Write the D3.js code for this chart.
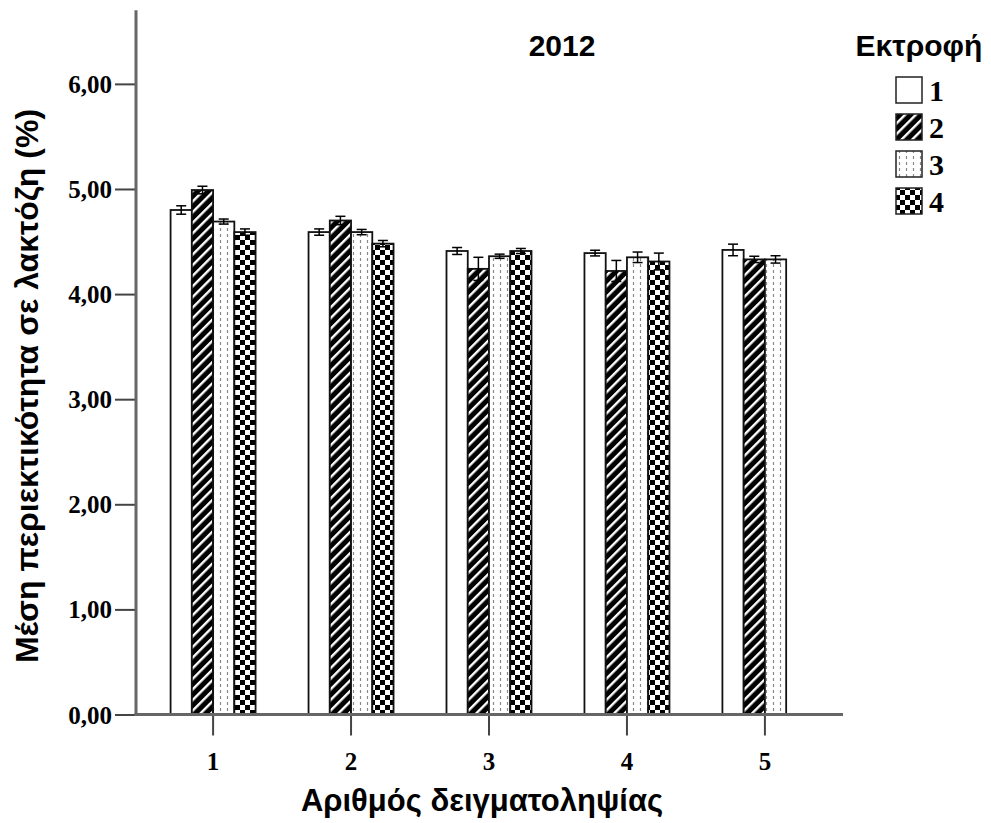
<!DOCTYPE html>
<html>
<head>
<meta charset="utf-8">
<script src="https://cdn.jsdelivr.net/npm/d3@7"></script>
<style>
  html, body { margin: 0; padding: 0; background: #fff; }
  svg { display: block; }
</style>
</head>
<body>
<svg id="chart" width="991" height="823"></svg>
<script>
// Sampling rounds on the x axis, farms (Εκτροφή) as the grouped series
const categories = ["1", "2", "3", "4", "5"];
const farms = ["1", "2", "3", "4"];

// Mean lactose content (%) per farm, one value per sampling round
const farm1 = [4.80, 4.59, 4.41, 4.39, 4.42];
const farm2 = [4.99, 4.70, 4.24, 4.22, 4.33];
const farm3 = [4.69, 4.59, 4.36, 4.35, 4.33];
const farm4 = [4.59, 4.48, 4.41, 4.31, null];

// Half-length of the error bars
const err1 = [0.040, 0.030, 0.033, 0.027, 0.055];
const err2 = [0.036, 0.040, 0.110, 0.100, 0.030];
const err3 = [0.024, 0.025, 0.020, 0.050, 0.035];
const err4 = [0.030, 0.030, 0.024, 0.080, null];

const yTicks = [0, 1, 2, 3, 4, 5, 6];
const yTickLabels = ["0,00", "1,00", "2,00", "3,00", "4,00", "5,00", "6,00"];

const means = [farm1, farm2, farm3, farm4];
const errs = [err1, err2, err3, err4];

const svg = d3.select("#chart");

// ---- fill patterns ----
const defs = svg.append("defs");

const hatch = defs.append("pattern")
  .attr("id", "pat-hatch").attr("patternUnits", "userSpaceOnUse")
  .attr("width", 7.5).attr("height", 7.5)
  .attr("patternTransform", "rotate(45)");
hatch.append("rect").attr("width", 7.5).attr("height", 7.5).attr("fill", "#000");
hatch.append("rect").attr("x", 0).attr("y", 0).attr("width", 2.4).attr("height", 7.5).attr("fill", "#fff");

const dots = defs.append("pattern")
  .attr("id", "pat-dots").attr("patternUnits", "userSpaceOnUse")
  .attr("width", 7).attr("height", 6);
dots.append("rect").attr("width", 7).attr("height", 6).attr("fill", "#fff");
dots.append("line").attr("x1", 3.5).attr("x2", 3.5).attr("y1", 0).attr("y2", 3)
  .attr("stroke", "#888").attr("stroke-width", 1.2);

const checker = defs.append("pattern")
  .attr("id", "pat-checker").attr("patternUnits", "userSpaceOnUse")
  .attr("width", 10).attr("height", 10);
checker.append("rect").attr("width", 10).attr("height", 10).attr("fill", "#fff");
checker.append("rect").attr("x", 0).attr("y", 0).attr("width", 5).attr("height", 5).attr("fill", "#000");
checker.append("rect").attr("x", 5).attr("y", 5).attr("width", 5).attr("height", 5).attr("fill", "#000");

const fills = ["#fff", "url(#pat-hatch)", "url(#pat-dots)", "url(#pat-checker)"];

// ---- scales ----
const x0 = d3.scaleBand().domain(categories).range([135, 843]).paddingOuter(0.066).paddingInner(0);
const groupWidth = 85;
const x1 = d3.scaleBand().domain(farms).range([0, groupWidth]).padding(0);
const y = d3.scaleLinear().domain([0, 6.7]).range([714.5, 10.3]);

const serif = "'Liberation Serif', 'Times New Roman', serif";
const sans = "'Liberation Sans', Arial, sans-serif";

// ---- bars ----
const barData = [];
categories.forEach((c, ci) => {
  farms.forEach((f, fi) => {
    const v = means[fi][ci];
    if (v != null) barData.push({ c, f, fi, v, e: errs[fi][ci] });
  });
});

const groupOffset = c => x0(c) + x0.bandwidth() / 2 - groupWidth / 2;

svg.append("g").selectAll("rect")
  .data(barData).join("rect")
  .attr("x", d => groupOffset(d.c) + x1(d.f))
  .attr("y", d => y(d.v))
  .attr("width", x1.bandwidth())
  .attr("height", d => y(0) - y(d.v))
  .attr("fill", d => fills[d.fi])
  .attr("stroke", "#111")
  .attr("stroke-width", 1.8);

// ---- error bars ----
const eb = svg.append("g").attr("stroke", "#000").attr("stroke-width", 1.5);
barData.forEach(d => {
  const cx = groupOffset(d.c) + x1(d.f) + x1.bandwidth() / 2;
  const capW = 5;
  eb.append("line").attr("x1", cx).attr("x2", cx).attr("y1", y(d.v + d.e)).attr("y2", y(d.v - d.e));
  eb.append("line").attr("x1", cx - capW).attr("x2", cx + capW).attr("y1", y(d.v + d.e)).attr("y2", y(d.v + d.e));
  eb.append("line").attr("x1", cx - capW).attr("x2", cx + capW).attr("y1", y(d.v - d.e)).attr("y2", y(d.v - d.e));
});

// ---- axes ----
const yAxis = d3.axisLeft(y).tickValues(yTicks)
  .tickFormat((d, i) => yTickLabels[i]).tickSize(21).tickPadding(3);
const gy = svg.append("g").attr("transform", "translate(136,0)").call(yAxis);
gy.select(".domain").remove();
gy.selectAll(".tick line").attr("stroke", "#444").attr("stroke-width", 2);
gy.selectAll(".tick text").attr("font-family", serif).attr("font-weight", "bold")
  .attr("font-size", 25).attr("fill", "#000").attr("dy", "0.34em");

const xAxis = d3.axisBottom(x0).tickSize(21).tickPadding(17);
const gx = svg.append("g").attr("transform", `translate(0,${y(0)})`).call(xAxis);
gx.select(".domain").remove();
gx.selectAll(".tick line").attr("stroke", "#444").attr("stroke-width", 2);
gx.selectAll(".tick text").attr("font-family", serif).attr("font-weight", "bold")
  .attr("font-size", 25).attr("fill", "#000");

// axis lines
svg.append("line").attr("x1", 136).attr("x2", 136).attr("y1", y(6.7)).attr("y2", y(0) + 1)
  .attr("stroke", "#666").attr("stroke-width", 3);
svg.append("line").attr("x1", 134.5).attr("x2", 843).attr("y1", y(0)).attr("y2", y(0))
  .attr("stroke", "#666").attr("stroke-width", 3);

// ---- titles ----
svg.append("text").attr("x", 562).attr("y", 56).attr("text-anchor", "middle")
  .attr("font-family", sans).attr("font-weight", "bold").attr("font-size", 30)
  .text("2012");

svg.append("text")
  .attr("transform", `translate(38,386) rotate(-90)`)
  .attr("text-anchor", "middle")
  .attr("font-family", sans).attr("font-weight", "bold").attr("font-size", 32)
  .text("Μέση περιεκτικότητα σε λακτόζη (%)");

svg.append("text").attr("x", 482).attr("y", 811).attr("text-anchor", "middle")
  .attr("font-family", sans).attr("font-weight", "bold").attr("font-size", 31)
  .text("Αριθμός δειγματοληψίας");

// ---- legend ----
const legend = svg.append("g");
legend.append("text").attr("x", 919).attr("y", 56).attr("text-anchor", "middle")
  .attr("font-family", sans).attr("font-weight", "bold").attr("font-size", 30)
  .text("Εκτροφή");
farms.forEach((f, i) => {
  const gy0 = 77 + i * 37;
  legend.append("rect").attr("x", 896).attr("y", gy0).attr("width", 26).attr("height", 26)
    .attr("fill", fills[i]).attr("stroke", "#222").attr("stroke-width", 1.5);
  legend.append("text").attr("x", 929).attr("y", gy0 + 24)
    .attr("font-family", serif).attr("font-weight", "bold").attr("font-size", 30)
    .text(f);
});
</script>
</body>
</html>
